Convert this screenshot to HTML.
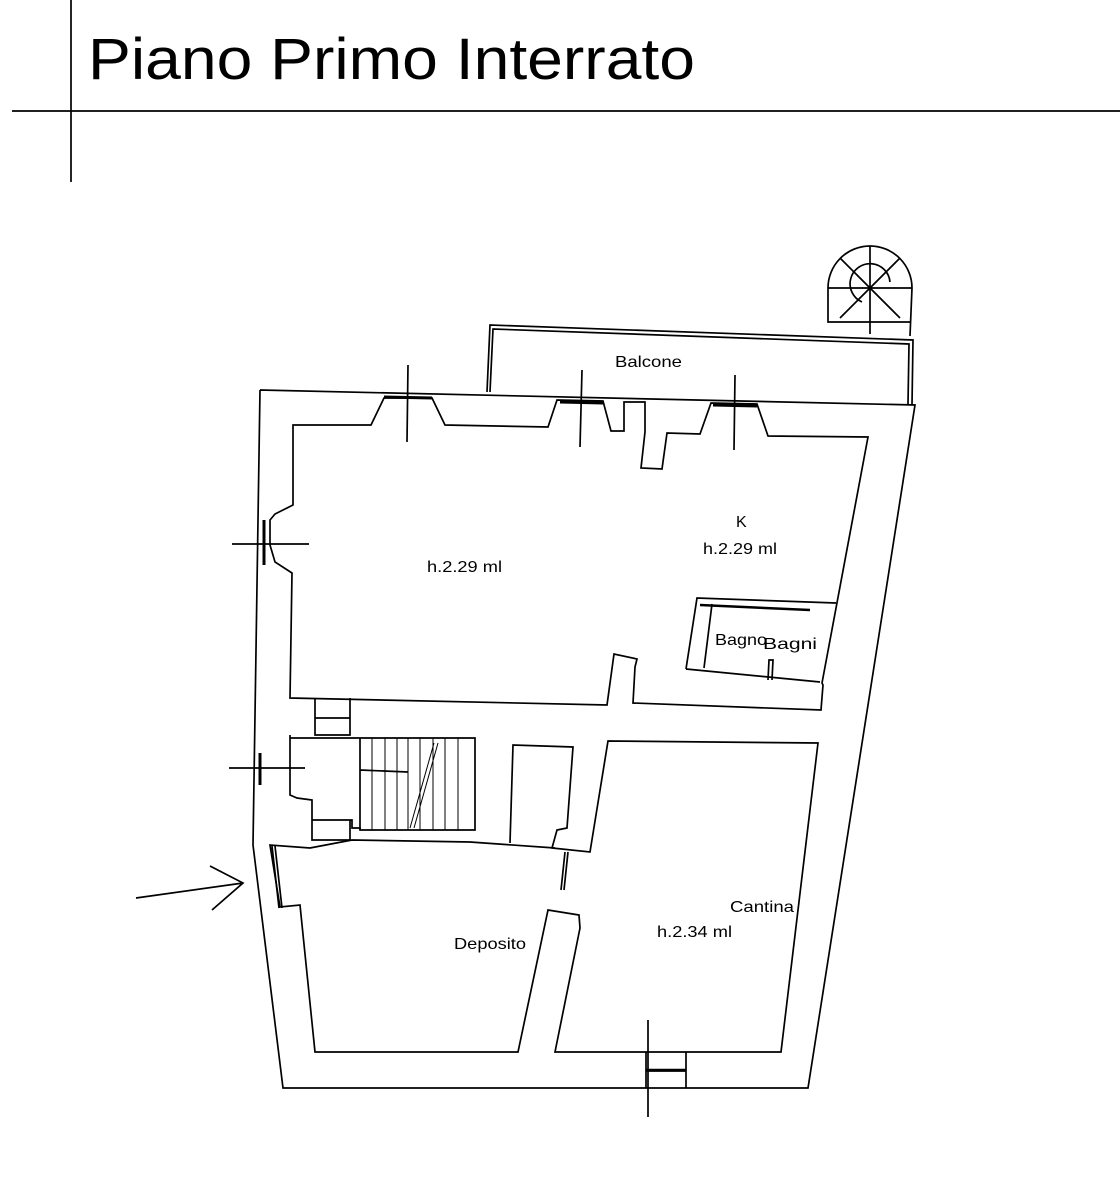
<!DOCTYPE html>
<html><head><style>html,body{margin:0;padding:0;background:#fff}svg{display:block}</style></head>
<body>
<svg width="1120" height="1200" viewBox="0 0 1120 1200" xmlns="http://www.w3.org/2000/svg" font-family="Liberation Sans, sans-serif">
<g stroke="#000" stroke-width="1.7" fill="none">
<line x1="12" y1="111" x2="1120" y2="111"/>
<line x1="71" y1="0" x2="71" y2="182"/>
<path d="M828 288 A42 42 0 0 1 912 288 L910 336 M828 288 L828 322 L910 322"/>
<line x1="828" y1="288" x2="912" y2="288"/>
<line x1="870" y1="246" x2="870" y2="334"/>
<line x1="840" y1="258" x2="900" y2="318"/><line x1="900" y1="258" x2="840" y2="318"/>
<path d="M890 282 A20 20 0 1 0 862 302"/>
<path d="M487 392 L490 325 L913 340 L912 405"/>
<path d="M490 392 L493 329 L909 344 L908 404"/>
<path d="M260 390 L915 405 L808 1088 L283 1088 L253 845 L260 390"/>
<path d="M293 425 L371 425 L384 398 L432 398 L445 425 L548 427 L557 400 L603 401 L611 431 L624 431 L624 402 L645 402 L645 432 L641 468 L662 469 L667 433 L700 434 L711 403 L757 404 L768 436 L868 437 L822 683 L823 685 L821 710 L633 703 L635 667 L637 659 L614 654 L607 705 L290 698 L292 573 L275 562 L270 545 L270 520 L275 514 L293 505 Z"/>
<path d="M686 669 L697 598 L836 603 M704 668 L712 604 M768 680 L769 660 L773 660 L772 680"/>
<path d="M686 669 L820 682"/>
<line x1="700" y1="605" x2="810" y2="610" stroke-width="2.5"/>
<path d="M315 698 L315 735 L350 735 L350 698 M315 718 L350 718"/>
<path d="M290 735 L290 738 L475 738 L475 830 L360 830 L360 828 L352 828 L352 820 L312 820 L312 840 L350 840 L350 820 M290 735 L290 795 L297 798 L312 800 L312 820"/>
<path d="M360 738 L360 830 M360 770 L408 772"/>
<g stroke-width="1">
<line x1="372" y1="738" x2="372" y2="830"/><line x1="385" y1="738" x2="385" y2="830"/>
<line x1="397" y1="738" x2="397" y2="830"/><line x1="408" y1="738" x2="408" y2="830"/>
<line x1="420" y1="738" x2="420" y2="830"/><line x1="433" y1="738" x2="433" y2="830"/>
<line x1="445" y1="738" x2="445" y2="830"/><line x1="458" y1="738" x2="458" y2="830"/>
<line x1="434" y1="743" x2="410" y2="828"/><line x1="438" y1="743" x2="414" y2="828"/>
</g>
<path d="M510 843 L513 745 L573 747 L567 828 L557 830 L552 848 L590 852 L608 741 L818 743 L781 1052 L555 1052 L580 928 L579 915 L548 910 L518 1052 L315 1052 L300 905 L280 907 L270 845 L310 848 L352 840 L470 842 L555 848"/>
<path d="M272 846 L279 908 M275 846 L282 908 M565 852 L561 890 M568 852 L564 890"/>
<path d="M646 1052 L646 1088 M686 1052 L686 1088 M646 1071 L686 1071"/>
<line x1="646" y1="1070" x2="686" y2="1070" stroke-width="2.5"/>
<line x1="384" y1="397" x2="432" y2="398" stroke-width="3"/>
<line x1="560" y1="402" x2="603" y2="403" stroke-width="3"/>
<line x1="713" y1="405" x2="757" y2="406" stroke-width="3"/>
<line x1="264" y1="520" x2="264" y2="565" stroke-width="3"/>
<line x1="260" y1="753" x2="260" y2="785" stroke-width="3"/>
<line x1="408" y1="365" x2="407" y2="442"/><line x1="582" y1="370" x2="580" y2="447"/>
<line x1="735" y1="375" x2="734" y2="450"/><line x1="232" y1="544" x2="309" y2="544"/>
<line x1="229" y1="768" x2="305" y2="768"/><line x1="648" y1="1020" x2="648" y2="1117"/>
<path d="M136 898 L243 883 M210 866 L243 883 L212 910"/>
</g>
<text x="88" y="79" font-size="58" fill="#000" textLength="607" lengthAdjust="spacingAndGlyphs">Piano Primo Interrato</text>
<g font-size="16" fill="#000">
<text x="615" y="367" textLength="67" lengthAdjust="spacingAndGlyphs">Balcone</text>
<text x="736" y="527">K</text>
<text x="703" y="554" textLength="74" lengthAdjust="spacingAndGlyphs">h.2.29 ml</text>
<text x="427" y="572" textLength="75" lengthAdjust="spacingAndGlyphs">h.2.29 ml</text>
<text x="715" y="645" textLength="52" lengthAdjust="spacingAndGlyphs">Bagno</text><text x="763" y="649" textLength="54" lengthAdjust="spacingAndGlyphs">Bagni</text>
<text x="730" y="912" textLength="64" lengthAdjust="spacingAndGlyphs">Cantina</text>
<text x="657" y="937" textLength="75" lengthAdjust="spacingAndGlyphs">h.2.34 ml</text>
<text x="454" y="949" textLength="72" lengthAdjust="spacingAndGlyphs">Deposito</text>
</g>
</svg>
</body></html>
